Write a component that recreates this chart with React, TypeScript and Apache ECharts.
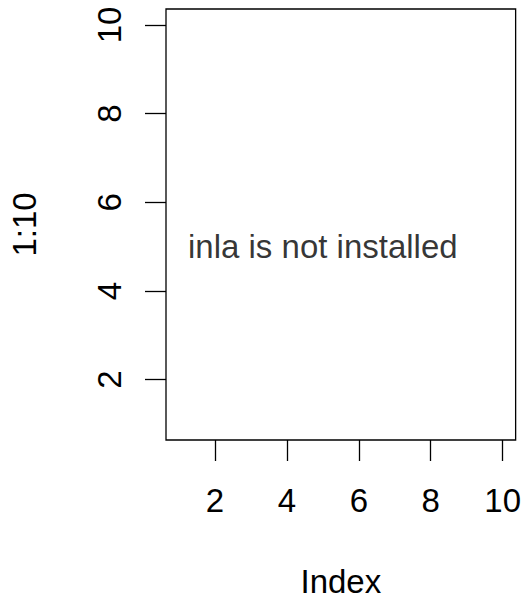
import React, { useEffect, useRef } from "react";
import * as echarts from "echarts";

const indexValues = [1, 2, 3, 4, 5, 6, 7, 8, 9, 10];
const yValues = [1, 2, 3, 4, 5, 6, 7, 8, 9, 10];
const xTicks = [2, 4, 6, 8, 10];
const yTicks = [2, 4, 6, 8, 10];
const message = "inla is not installed";
const messagePos = [5, 5];

export default function App() {
  const ref = useRef<HTMLDivElement>(null);
  useEffect(() => {
    if (!ref.current) return;
    const chart = echarts.init(ref.current, null, { renderer: "svg" });
    const pad = (Math.max(...indexValues) - Math.min(...indexValues)) * 0.04;
    const padY = (Math.max(...yValues) - Math.min(...yValues)) * 0.04;
    const font = "Liberation Sans, Arial, Helvetica, sans-serif";
    chart.setOption({
      animation: false,
      backgroundColor: "#ffffff",
      grid: {
        left: 165,
        right: 8,
        top: 9,
        bottom: 163,
        show: true,
        borderColor: "#000",
        borderWidth: 1.3,
        backgroundColor: "transparent",
      },
      xAxis: {
        type: "value",
        min: Math.min(...indexValues) - pad,
        max: Math.max(...indexValues) + pad,
        name: "Index",
        nameLocation: "middle",
        nameGap: 125,
        nameTextStyle: { fontSize: 33, color: "#000", fontFamily: font },
        axisLine: { show: false },
        axisTick: {
          show: true,
          customValues: xTicks,
          length: 21,
          lineStyle: { color: "#000", width: 1.3 },
        },
        axisLabel: {
          show: true,
          customValues: xTicks,
          fontSize: 33,
          color: "#000",
          fontFamily: font,
          margin: 44,
        },
        splitLine: { show: false },
      },
      yAxis: {
        type: "value",
        min: Math.min(...yValues) - padY,
        max: Math.max(...yValues) + padY,
        name: "1:10",
        nameLocation: "middle",
        nameRotate: 90,
        nameGap: 125,
        nameTextStyle: { fontSize: 33, color: "#000", fontFamily: font },
        axisLine: { show: false },
        axisTick: {
          show: true,
          customValues: yTicks,
          length: 21,
          lineStyle: { color: "#000", width: 1.3 },
        },
        axisLabel: {
          show: true,
          customValues: yTicks,
          rotate: 90,
          fontSize: 33,
          color: "#000",
          fontFamily: font,
          margin: 40,
        },
        splitLine: { show: false },
      },
      series: [
        {
          type: "scatter",
          data: [messagePos],
          symbolSize: 0,
          silent: true,
          label: {
            show: true,
            position: "inside",
            formatter: message,
            fontSize: 33,
            color: "#000",
            fontFamily: font,
          },
        },
      ],
    });
    return () => chart.dispose();
  }, []);
  return (
    <div
      ref={ref}
      style={{ position: "fixed", left: 0, top: 0, width: 524, height: 603 }}
    />
  );
}
